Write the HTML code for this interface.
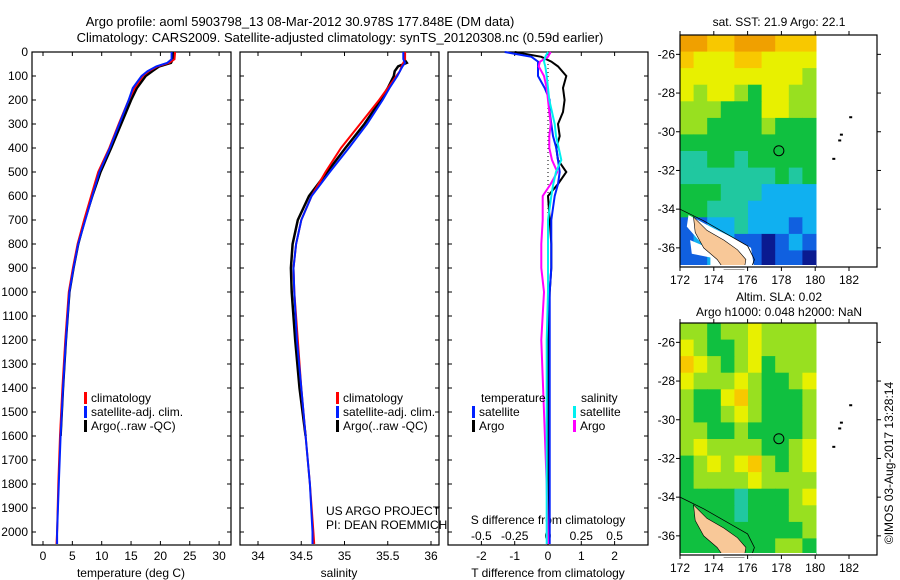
<!DOCTYPE html>
<html><head><meta charset="utf-8">
<style>
body{margin:0;background:#fff;}
svg{display:block;font-family:"Liberation Sans",sans-serif;}
text{font-size:12px;fill:#000;}
</style></head>
<body>
<svg id="fig" width="900" height="580" viewBox="0 0 900 580" xmlns="http://www.w3.org/2000/svg">
<text x="300" y="26" text-anchor="middle" style="font-size:13px">Argo profile: aoml 5903798_13 08-Mar-2012 30.978S 177.848E (DM data)</text>
<text x="340" y="42" text-anchor="middle" style="font-size:13px">Climatology: CARS2009. Satellite-adjusted climatology: synTS_20120308.nc (0.59d earlier)</text>
<g id="g"></g>
</svg>
<script>
// ---------- data ----------
const depthT=[0,30,45,60,80,100,150,200,300,400,500,600,700,800,900,1000,1200,1400,1600,1800,2000,2050];
const tempClim=[22.5,22.4,21.5,19.5,18.0,17.0,15.6,14.6,12.9,11.3,9.4,8.2,7.0,5.9,5.1,4.4,3.8,3.3,2.9,2.6,2.4,2.3];
const tempSat=[21.9,21.9,21.2,19.3,17.8,16.8,15.3,14.6,13.0,11.4,9.6,8.4,7.2,6.0,5.2,4.5,3.9,3.4,3.0,2.7,2.4,2.4];
const depthA=[0,30,45,60,80,100,150,200,300,400,500,600,700,800,900,1000,1200,1400,1600];
const tempArgo=[22.1,22.1,21.8,19.8,18.6,17.5,16.0,15.0,13.3,11.6,9.8,8.4,7.1,6.0,5.2,4.5,3.9,3.4,3.0];
const salClim=[35.70,35.70,35.68,35.66,35.64,35.60,35.50,35.40,35.18,34.96,34.78,34.62,34.50,34.44,34.41,34.42,34.46,34.50,34.55,34.60,34.64,34.65];
const salSat=[35.68,35.68,35.70,35.67,35.64,35.61,35.52,35.44,35.26,35.05,34.83,34.62,34.50,34.44,34.41,34.42,34.45,34.50,34.55,34.60,34.63,34.63];
const salArgo=[35.69,35.69,35.72,35.62,35.58,35.57,35.50,35.42,35.23,35.01,34.80,34.59,34.46,34.40,34.38,34.39,34.43,34.48,34.55];
const depthD=[0,20,40,60,100,150,200,250,300,350,400,450,500,550,600,700,800,900,1000,1200,1500,1800,2050];
const dTsat=[-1.3,-0.5,-0.3,-0.3,-0.3,-0.1,0.05,0.05,0.1,0.15,0.25,0.3,0.35,0.3,0.2,0.1,0.1,0.1,0.05,0.05,0.05,0.05,0.05];
const dTargo=[-1.0,-0.2,0.1,0.3,0.55,0.45,0.5,0.45,0.3,0.35,0.25,0.3,0.55,0.3,0.0,0.05,0.1,0.1,0.05,0.0,0.0,0.0,0.0];
const dSsat=[0.0,-0.02,-0.03,-0.02,-0.01,0.0,0.01,0.03,0.05,0.06,0.08,0.1,0.06,0.04,0.025,0.0,0.0,0.0,0.0,-0.01,-0.01,-0.01,-0.01];
const dSargo=[0.02,0.0,-0.06,-0.07,-0.03,-0.01,0.0,0.01,0.02,0.01,0.01,0.03,0.07,0.02,-0.04,-0.04,-0.05,-0.05,-0.03,-0.05,-0.03,-0.01,0.0];
const depthTicks=[0,100,200,300,400,500,600,700,800,900,1000,1100,1200,1300,1400,1500,1600,1700,1800,1900,2000];
const tTicks=[0,5,10,15,20,25,30];
const sTicks=["34","34.5","35","35.5","36"];
const dTTicks=["-2","-1","0","1","2"];
const dSTicks=["-0.5","-0.25","0","0.25","0.5"];
const sstGrid=[
[9,9,8,8,9,9,9,8,8,8],[8,7,7,7,8,8,7,7,7,7],[7,7,7,7,7,7,7,7,7,6],[7,6,7,7,6,5,7,7,6,6],
[6,6,6,5,5,5,7,7,6,6],[6,6,5,5,5,5,6,5,5,5],[5,5,5,5,5,5,5,5,5,5],[4,4,5,5,4,5,5,5,5,5],
[4,4,4,4,4,4,4,5,4,5],[5,5,5,4,4,4,3,3,3,3],[5,5,4,4,4,3,3,3,3,3],[2,2,3,3,4,3,3,3,2,3],
[2,3,3,3,2,2,1,2,3,2],[2,2,3,2,3,2,1,2,2,1]];
const slaGrid=[
[6,6,5,6,6,7,6,6,6,6],[7,6,5,5,6,7,6,6,6,6],[8,7,6,5,6,7,5,6,6,6],[7,6,6,6,7,6,5,5,6,7],
[6,5,5,7,8,6,5,5,5,6],[6,5,5,6,7,6,5,5,5,6],[6,6,5,5,6,5,5,5,5,6],[6,7,6,6,6,6,5,5,6,7],
[5,6,7,6,7,8,6,5,6,7],[5,6,6,6,6,7,6,6,6,6],[5,5,5,5,4,5,5,5,6,7],[5,5,5,5,4,5,5,5,6,6],
[5,5,5,5,5,5,5,5,5,6],[5,5,5,5,5,5,5,6,6,5]];
const palette=['#ffffff','#0a1a90','#1060e0','#10b0f0','#20c8a0','#10c040','#98e020','#e8f000','#f8c800','#f0a000'];
const latTicks=[-26,-28,-30,-32,-34,-36];
const lonTicks=[172,174,176,178,180,182];
const nzLon=[172.8,173.6,174.6,175.4,175.9,175.8,174.6,174.2,173.4,172.9];
const nzLat=[-34.4,-35.1,-35.6,-36.1,-36.6,-37.1,-37.1,-36.6,-36.0,-35.2];

// ---------- helpers ----------
const NS='http://www.w3.org/2000/svg';
const G=document.getElementById('g');
function mk(tag,at,parent){const e=document.createElementNS(NS,tag);for(const k in at)e.setAttribute(k,at[k]);(parent||G).appendChild(e);return e;}
function txt(x,y,s,anchor,parent){const t=mk('text',{x:x,y:y,'text-anchor':anchor||'start'},parent);t.textContent=s;return t;}
const yD=d=>52+d*0.2400;
const pTop=52,pBot=545;

function frame(x0,x1,name){
  const r=mk('rect',{x:x0,y:pTop,width:x1-x0,height:pBot-pTop,fill:'none',stroke:'#000','stroke-width':1.2});
  
  
}
function profile(xs,ds,fx,color,w,name){
  let p='';for(let i=0;i<xs.length;i++){p+=(i?'L':'M')+fx(xs[i]).toFixed(1)+','+yD(ds[i]).toFixed(1);}
  const e=mk('path',{d:p,fill:'none',stroke:color,'stroke-width':w});
  
  
}
function legend(x,y,labels,colors,prefix){
  for(let i=0;i<labels.length;i++){
    const b=mk('rect',{x:x,y:y+i*14-10,width:3,height:12,fill:colors[i]});
    
    
    const t=txt(x+7,y+i*14,labels[i]);
    
    
  }
}

// depth axis
depthTicks.forEach(d=>{
  const t=txt(28,yD(d)+4,String(d),'end');
  
  
  [[32,36],[227,231],[240,244],[435,439],[448,452],[644,648]].forEach(a=>mk('line',{x1:a[0],x2:a[1],y1:yD(d),y2:yD(d),stroke:'#000'}));
});

// panel 1 temperature
const xT=t=>43+t*5.87;
frame(32,231,'temperature-panel');
tTicks.forEach(t=>{const x=xT(t);mk('line',{x1:x,x2:x,y1:pTop,y2:pTop+4,stroke:'#000'});mk('line',{x1:x,x2:x,y1:pBot,y2:pBot-4,stroke:'#000'});
  const l=txt(x,560,String(t),'middle');});
let e=txt(131,577,'temperature (deg C)','middle');
profile(tempArgo,depthA,xT,'#000',2.5,'temperature-argo-line');
profile(tempClim,depthT,xT,'#f00',2,'temperature-climatology-line');
profile(tempSat,depthT,xT,'#0020ff',2,'temperature-satellite-line');
legend(84,402,['climatology','satellite-adj. clim.','Argo(..raw -QC)'],['#f00','#0020ff','#000'],'temperature');

// panel 2 salinity
const xS=s=>258+(s-34)*86.5;
frame(240,439,'salinity-panel');
sTicks.forEach(s=>{const x=xS(parseFloat(s));mk('line',{x1:x,x2:x,y1:pTop,y2:pTop+4,stroke:'#000'});mk('line',{x1:x,x2:x,y1:pBot,y2:pBot-4,stroke:'#000'});
  const l=txt(x,560,s,'middle');});
e=txt(339,577,'salinity','middle');
profile(salArgo,depthA,xS,'#000',2.5,'salinity-argo-line');
profile(salClim,depthT,xS,'#f00',2,'salinity-climatology-line');
profile(salSat,depthT,xS,'#0020ff',2,'salinity-satellite-line');
legend(336,402,['climatology','satellite-adj. clim.','Argo(..raw -QC)'],['#f00','#0020ff','#000'],'salinity');
e=txt(326,515,'US ARGO PROJECT');
e=txt(326,529,'PI: DEAN ROEMMICH');

// panel 3 differences
const xDT=v=>548+v*33.3;
const xDS=v=>548+v*133.2;
frame(448,648,'difference-panel');
dTTicks.forEach(s=>{const x=xDT(parseFloat(s));mk('line',{x1:x,x2:x,y1:pTop,y2:pTop+4,stroke:'#000'});mk('line',{x1:x,x2:x,y1:pBot,y2:pBot-4,stroke:'#000'});
  const l=txt(x,560,s,'middle');});
dSTicks.forEach(s=>{const l=txt(xDS(parseFloat(s)),540,s,'middle');});
e=txt(548,524,'S difference from climatology','middle');
e=txt(548,577,'T difference from climatology','middle');
mk('line',{x1:548,x2:548,y1:pTop,y2:pBot,stroke:'#000','stroke-dasharray':'1,3'});
profile(dTargo,depthD,xDT,'#000',2,'t-diff-argo-line');
profile(dTsat,depthD,xDT,'#0020ff',2,'t-diff-satellite-line');
profile(dSargo,depthD,xDS,'#ff00ff',2,'s-diff-argo-line');
profile(dSsat,depthD,xDS,'#00f0f0',2,'s-diff-satellite-line');
e=txt(481,402,'temperature');
e=txt(581,402,'salinity');
legend(472,416,['satellite','Argo'],['#0020ff','#000'],'t-diff');
legend(573,416,['satellite','Argo'],['#00f0f0','#ff00ff'],'s-diff');

// maps
function map(y0,grid,name){
  const X0=680,X1=877,Y1=y0+232;
  const lx=lon=>680+(lon-172)*16.9;
  const ly=lat=>y0+(-25-lat)*19.35;
  const gg=mk('g',{});
  
  
  const rows=grid.length,cols=grid[0].length,cw=136/cols,ch=232/rows;
  for(let r=0;r<rows;r++)for(let c=0;c<cols;c++){
    const cell=mk('rect',{x:(X0+c*cw).toFixed(1),y:(y0+r*ch).toFixed(1),width:(cw+0.5).toFixed(1),height:(ch+0.5).toFixed(1),fill:palette[grid[r][c]]},gg);
    
    
  }
  let pts=nzLon.map((lo,i)=>lx(lo).toFixed(1)+','+ly(nzLat[i]).toFixed(1)).join(' ');
  if(name==='sst-map'){
    const wp=[[172.5,-34.3],[174.0,-35.0],[175.2,-35.5],[176.2,-36.0],[176.4,-37.1],[173.8,-37.1],[173.8,-36.5],[172.7,-36.3],[172.6,-35.6],[173.4,-35.9],[172.4,-34.9]];
    mk('polygon',{points:wp.map(p=>lx(p[0]).toFixed(1)+','+ly(p[1]).toFixed(1)).join(' '),fill:'#fff'},gg);
  }
  const outline=[[172.0,-34.0],[173.4,-34.6],[174.8,-35.3],[176.0,-35.9],[176.4,-36.6],[176.2,-37.1]];
  mk('polyline',{points:outline.map(p=>lx(p[0]).toFixed(1)+','+ly(p[1]).toFixed(1)).join(' '),fill:'none',stroke:'#000','stroke-width':0.8},gg);
  const land=mk('polygon',{points:pts,fill:'#f8c898',stroke:'#000','stroke-width':0.6},gg);
  
  
  mk('rect',{x:X0,y:Y1-2,width:136,height:4,fill:'#fff'},gg);
  mk('rect',{x:X0,y:y0,width:X1-X0,height:Y1-y0,fill:'none',stroke:'#000','stroke-width':1.2},gg);
  latTicks.forEach(l=>{const y=ly(l);mk('line',{x1:X0,x2:X0-4,y1:y,y2:y,stroke:'#000'},gg);mk('line',{x1:X1,x2:X1+4,y1:y,y2:y,stroke:'#000'},gg);
    const t=txt(X0-5,y+4,String(l),'end',gg);});
  lonTicks.forEach(l=>{const x=lx(l);mk('line',{x1:x,x2:x,y1:y0,y2:y0-4,stroke:'#000'},gg);mk('line',{x1:x,x2:x,y1:Y1,y2:Y1+4,stroke:'#000'},gg);
    const t=txt(x,Y1+17,String(l),'middle',gg);});
  const fl=mk('circle',{cx:lx(177.85),cy:ly(-30.98),r:5,fill:'none',stroke:'#000','stroke-width':1},gg);
  
  
  [[182.1,-29.25],[181.55,-30.15],[181.45,-30.45],[181.1,-31.4]].forEach(p=>mk('rect',{x:lx(p[0])-1.5,y:ly(p[1])-1,width:3,height:2,fill:'#000'},gg));
}
map(35,sstGrid,'sst-map');
map(323,slaGrid,'sla-map');
e=txt(779,26,'sat. SST: 21.9 Argo: 22.1','middle');
e=txt(779,301,'Altim. SLA: 0.02','middle');
e=txt(779,316,'Argo h1000: 0.048 h2000: NaN','middle');
e=txt(0,0,'©IMOS 03-Aug-2017 13:28:14','middle');
e.setAttribute('transform','translate(893,463) rotate(-90)');


</script>
</body></html>
